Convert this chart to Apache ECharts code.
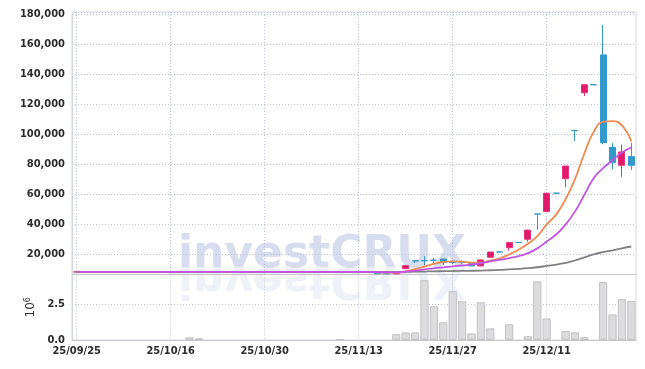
<!DOCTYPE html>
<html><head><meta charset="utf-8">
<script src="https://cdn.jsdelivr.net/npm/echarts@6/dist/echarts.min.js"></script>
<style>html,body{margin:0;padding:0;background:#fff}#c{width:645px;height:369px}</style>
</head><body><div id="c"></div>
<script>
const dates = ['25/09/25','25/09/26','25/09/29','25/09/30','25/10/01','25/10/02','25/10/10','25/10/13','25/10/14','25/10/15',
'25/10/16','25/10/17','25/10/20','25/10/21','25/10/22','25/10/23','25/10/24','25/10/27','25/10/28','25/10/29',
'25/10/30','25/10/31','25/11/03','25/11/04','25/11/05','25/11/06','25/11/07','25/11/10','25/11/11','25/11/12',
'25/11/13','25/11/14','25/11/17','25/11/18','25/11/19','25/11/20','25/11/21','25/11/24','25/11/25','25/11/26',
'25/11/27','25/11/28','25/12/01','25/12/02','25/12/03','25/12/04','25/12/05','25/12/08','25/12/09','25/12/10',
'25/12/11','25/12/12','25/12/15','25/12/16','25/12/17','25/12/18','25/12/19','25/12/22','25/12/23','25/12/24'];

const opens = [8000,8000,8000,8000,8000,8000,8000,8000,8000,8000,8000,8000,8000,8000,8000,8000,
8000,8000,8000,8000,8000,8000,8000,8000,8000,8000,8000,8000,8000,8000,8000,8000,
7900,7700,6700,10200,15400,15600,15900,16600,14500,14500,13600,12000,17800,21350,24200,27700,
29800,46650,48200,60550,70200,102250,127500,132850,152700,91100,79100,84900];
const closes = [8000,8000,8000,8000,8000,8000,8000,8000,8000,8000,8000,8000,8000,8000,8000,8000,
8000,8000,8000,8000,8000,8000,8000,8000,8000,8000,8000,8000,8000,8000,8000,8000,
6800,6800,8000,12200,15300,15500,15800,14400,14400,14400,12000,16000,21300,21300,27650,27650,
35900,46600,60500,60500,78600,102200,132800,132800,94200,80900,88000,79100];
const lows = [8000,8000,8000,8000,8000,8000,8000,8000,8000,8000,8000,8000,8000,8000,8000,8000,
8000,8000,8000,8000,8000,8000,8000,8000,8000,8000,8000,8000,8000,8000,8000,8000,
6700,6600,6600,10200,14000,12300,13300,12600,13300,13300,12000,12000,17800,21300,22200,27650,
28200,36000,48200,60500,64500,95300,125300,132800,93100,76500,71500,76000];
const highs = [8000,8000,8000,8000,8000,8000,8000,8000,8000,8000,8000,8000,8000,8000,8000,8000,
8000,8000,8000,8000,8000,8000,8000,8000,8000,8000,8000,8000,8000,8000,8000,8000,
8000,7800,8000,12200,15600,18500,17300,16700,15500,15600,13700,16000,21300,21350,27650,27700,
35900,46650,60500,60550,78600,102250,132800,132850,172700,94000,92900,94200];

const ma5 = [8000,8000,8000,8000,8000,8000,8000,8000,8000,8000,8000,8000,8000,8000,8000,8000,
8000,8000,8000,8000,8000,8000,8000,8000,8000,8000,8000,8000,8000,8000,8000,8000,
7760,7520,7520,8360,9820,11560,13360,14640,15080,14900,14200,14240,15620,17000,19650,22780,
26760,31820,39660,46230,56420,69680,86920,101380,108120,108580,105740,95000];
const ma10 = [8000,8000,8000,8000,8000,8000,8000,8000,8000,8000,8000,8000,8000,8000,8000,8000,
8000,8000,8000,8000,8000,8000,8000,8000,8000,8000,8000,8000,8000,8000,8000,8000,
7880,7760,7760,8180,8910,9660,10440,11080,11720,12360,12880,13800,15130,16040,17275,18490,
20500,23720,28330,32940,39600,48220,59370,70520,77175,82500,87710,90960];
const ma60 = [8000,8000,8000,8000,8000,8000,8000,8000,8000,8000,8000,8000,8000,8000,8000,8000,
8000,8000,8000,8000,8000,8000,8000,8000,8000,8000,8000,8000,8000,8000,8000,8000,
7980,7960,7960,8030,8152,8277,8407,8513,8620,8727,8793,8927,9148,9370,9698,10025,
10490,11133,12008,12883,14060,15630,17710,19790,21227,22442,23775,24960];

const volumes = [0,0,0,0,0,0,0,0,0,0,0,0,190000,120000,0,0,0,0,0,0,
0,0,0,0,0,0,0,0,70000,0,0,0,0,0,400000,530000,530000,4150000,2340000,1230000,
3400000,2690000,460000,2620000,810000,0,1090000,0,260000,4080000,1500000,0,630000,530000,200000,0,
4030000,1780000,2830000,2710000];

const priceTicks = [20000,40000,60000,80000,100000,120000,140000,160000,180000];

const FONT = '"DejaVu Sans Condensed", "DejaVu Sans", sans-serif';
const gridLine = {show:true, lineStyle:{color:'#bcc3d9', type:[1,2], width:1}};
const chart = echarts.init(document.getElementById('c'), null, {renderer:'canvas'});

const candleData = opens.map((o,i)=>[o, closes[i], lows[i], highs[i]]);
const volData = volumes.map(v => v === 0 ? '-' : v);

chart.setOption({
  animation:false,
  backgroundColor:'#fff',
  grid:[
    {left:72, right:9, top:12, height:262.5, show:true, borderColor:'#d4d6de', borderWidth:1, containLabel:false},
    {left:72, right:9, top:274.5, height:65.5, show:true, borderColor:'#d4d6de', borderWidth:1, containLabel:false}
  ],
  graphic:[
    {type:'text', x:178, y:255.6, z:0, silent:true,
     style:{text:'investCRUX', font:'bold 44px "DejaVu Sans"', fill:'rgba(150,165,210,0.38)', verticalAlign:'middle', align:'left'}},
    {type:'text', x:178, y:278.4, scaleY:-1, z:0, silent:true,
     style:{text:'investCRUX', font:'bold 44px "DejaVu Sans"', fill:'rgba(150,165,210,0.16)', verticalAlign:'middle', align:'left'}}
  ],
  xAxis:[
    {type:'category', gridIndex:0, data:dates, boundaryGap:true,
     axisLine:{show:true, lineStyle:{color:'#c8c8cc'}}, axisTick:{show:false, alignWithLabel:true, interval:9},
     axisLabel:{show:false, interval:9}, splitLine:Object.assign({interval:9, alignWithLabel:true}, gridLine)},
    {type:'category', gridIndex:1, data:dates, boundaryGap:true,
     axisLine:{show:true, lineStyle:{color:'#c8c8cc'}}, axisTick:{show:false, alignWithLabel:true, interval:9},
     axisLabel:{show:true, interval:9, color:'#2b2b2b', fontFamily:FONT, fontWeight:'bold', fontSize:11, margin:6},
     splitLine:Object.assign({interval:9, alignWithLabel:true}, gridLine)}
  ],
  yAxis:[
    {type:'value', gridIndex:0, min:6300, max:181300, splitNumber:9,
     axisLine:{show:true, lineStyle:{color:'#d4d6de'}}, axisTick:{show:false},
     axisLabel:{color:'#2b2b2b', fontFamily:FONT, fontWeight:'bold', fontSize:11, margin:7,
       showMinLabel:false, showMaxLabel:false,
       formatter: v => priceTicks.indexOf(v) >= 0 ? v.toLocaleString('en-US') : ''},
     splitLine:gridLine},
    {type:'value', gridIndex:1, min:0, max:4550000, interval:2500000,
     name:'{a|10}{b|6}', nameLocation:'middle', nameRotate:90, nameGap:33,
     nameTextStyle:{rich:{a:{fontSize:12, color:'#333', fontFamily:'"DejaVu Sans"'}, b:{fontSize:8, color:'#333', fontFamily:'"DejaVu Sans"', verticalAlign:'top', padding:[0,0,6,0]}}},
     axisLine:{show:true, lineStyle:{color:'#d4d6de'}}, axisTick:{show:false},
     axisLabel:{color:'#2b2b2b', fontFamily:FONT, fontWeight:'bold', fontSize:11, margin:7, showMaxLabel:false,
       formatter: v => (v/1e6).toFixed(1)},
     splitLine:gridLine}
  ],
  series:[
    {type:'candlestick', xAxisIndex:0, yAxisIndex:0, data:candleData, barWidth:6.5, z:3,
     itemStyle:{color:'#e2186a', color0:'#3399cc', borderColor:'#e8347c', borderColor0:'#3399cc', borderWidth:1}},
    {type:'line', xAxisIndex:0, yAxisIndex:0, data:ma5, symbol:'none', smooth:true, z:4,
     lineStyle:{color:'#ef8a52', width:1.8}},
    {type:'line', xAxisIndex:0, yAxisIndex:0, data:ma60, symbol:'none', smooth:true, z:4,
     lineStyle:{color:'#808080', width:1.8}},
    {type:'line', xAxisIndex:0, yAxisIndex:0, data:ma10, symbol:'none', smooth:true, z:4,
     lineStyle:{color:'#c352e6', width:1.8}},
    {type:'bar', xAxisIndex:1, yAxisIndex:1, data:volData, barWidth:'88%', z:3,
     itemStyle:{color:'#dcdcdf', borderColor:'#c2c2c6', borderWidth:1}}
  ]
});
</script></body></html>
